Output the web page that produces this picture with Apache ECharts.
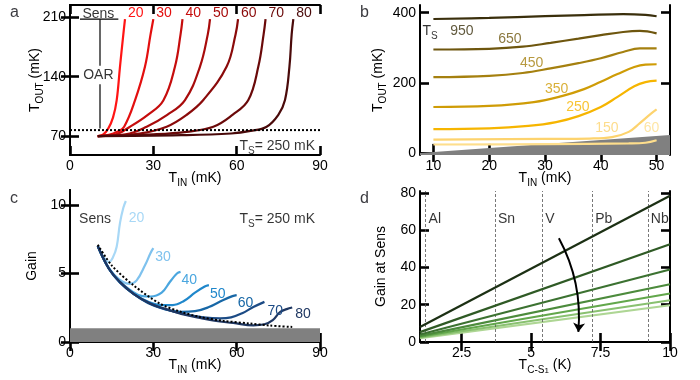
<!DOCTYPE html>
<html>
<head>
<meta charset="utf-8">
<script src="https://cdn.jsdelivr.net/npm/echarts@6/dist/echarts.min.js"></script>
<style>
html, body { margin: 0; padding: 0; background: #fff; }
#chart { width: 700px; height: 380px; }
</style>
</head>
<body>
<div id="chart"></div>
<script>
// ---- panel a: T_OUT vs T_IN, Ts = 250 mK, one curve per Sens ----
const sensA = [20, 30, 40, 50, 60, 70, 80];
const a20 = [[10,70],[12,72],[13.8,79],[15.5,92],[16.8,112],[18,152],[19.2,190],[19.8,208]];
const a30 = [[10,70],[14,71.5],[17,75],[19.5,81],[23.4,112],[27,152],[29,190],[30,208]];
const a40 = [[10,70],[16,71.5],[21.6,81],[28,95],[33.6,112],[37.8,152],[39.8,190],[40.5,208]];
const a50 = [[10,70],[20,72],[27.6,81],[35,95],[41.4,112.5],[46.8,152],[49.6,190],[50.4,208]];
const a60 = [[10,70],[25,73],[34.8,81],[42,95],[48,112.5],[56.4,152],[59.6,190],[60.5,208]];
const a70 = [[10,70],[30,72],[42,75],[51.6,81],[58.5,95],[64.2,112.5],[67.8,152],[69.7,190],[70.4,208]];
const a80 = [[10,70],[40,71],[58,73],[65,76],[70.8,81],[75,95],[77.4,112.5],[79,152],[79.8,190],[80.4,208]];
const curvesA = [a20, a30, a40, a50, a60, a70, a80];
const colorsA = ['#ff1414', '#e30f0f', '#c60c0c', '#a80b0b', '#8a0a0a', '#6a0909', '#4a0a0a'];
const floorA = [[0,77],[90,77]];
const sensBar = [[3.6,208],[17.4,208]];
const oarTop = [[10.8,208],[10.8,153]];
const oarBottom = [[10.8,131],[10.8,79]];

// ---- panel b: T_OUT vs T_IN for several Ts ----
const tsB = [950, 650, 450, 350, 250, 150, 60];
const b950 = [[10,382],[20,385],[30,390],[37,393],[44,396],[48,394],[50,390]];
const b650 = [[10,295],[20,297],[26,303],[31,314],[36,326],[40,336],[44,345],[47,348],[50,341]];
const b450 = [[10,216],[20,220],[26,228],[31,241],[36,256],[40,270],[44,288],[47,298],[50,298]];
const b350 = [[10,131],[20,134],[28,145],[33,162],[37,182],[40,203],[43,225],[46,245],[48,252],[50,253]];
const b250 = [[10,68],[20,70],[27,77],[32,88],[36,105],[40,131],[43,160],[46,190],[48,202],[50,206]];
const b150 = [[10,38],[30,40],[38,41],[42,45],[45,60],[47,85],[49,112],[50,124]];
const b60 = [[10,24],[30,25],[45,27],[48,29],[50,36]];
const curvesB = [b950, b650, b450, b350, b250, b150, b60];
const colorsB = ['#3a2f0c', '#6e560e', '#a5800f', '#cf9c06', '#f6b500', '#fdd36e', '#fede8c'];
const grayB = [[7.6,0],[52.4,51]];
const labelPosB = [[15.1,346],[23.7,325],[27.6,255],[32.1,181],[35.9,130],[41.1,71],[49.1,71]];

// ---- panel c: gain vs T_IN, Ts = 250 mK ----
const sensC = [20, 30, 40, 50, 60, 70, 80];
const c20 = [[10,7.0],[11.5,6.4],[13,5.95],[14,5.85],[15.5,6.2],[16.8,6.95],[18,8.7],[19.2,9.8],[20.1,10.3]];
const c30 = [[10,7.0],[13,5.7],[16,4.9],[19,4.4],[21.5,4.25],[24,4.5],[27,5.6],[29,6.5],[30,6.85]];
const c40 = [[10,7.0],[14,5.4],[18,4.4],[22,3.75],[26,3.35],[29,3.32],[33,3.6],[36,4.4],[38.5,5.0],[39.8,5.12]];
const c50 = [[10,7.0],[14,5.35],[18,4.35],[23,3.5],[28,2.95],[33,2.7],[37,2.7],[41,3.0],[45,3.6],[48.5,4.05],[50,4.15]];
const c60 = [[10,7.0],[14,5.35],[18,4.35],[23,3.5],[28,2.85],[34,2.4],[40,2.2],[45,2.25],[50,2.55],[55,3.05],[58.5,3.35],[60,3.42]];
const c70 = [[10,7.0],[14,5.35],[18,4.35],[23,3.5],[29,2.8],[35,2.35],[42,2.0],[48,1.8],[54,1.72],[58,1.8],[62,2.1],[66,2.55],[70,2.93]];
const c80 = [[10,7.0],[14,5.37],[18,4.39],[22.8,3.54],[28.8,2.81],[34.8,2.39],[40,2.05],[46.8,1.76],[52,1.55],[58.8,1.39],[66,1.22],[70,1.3],[73,1.6],[75.6,2.19],[78,2.4],[80,2.52]];
const curvesC = [c20, c30, c40, c50, c60, c70, c80];
const colorsC = ['#a8d8f6', '#7fc2ee', '#4aa6df', '#1f87cb', '#1767a6', '#1c4b85', '#1f3762'];
const labelOffC = [[2,17],[1,9],[0,8],[0,9],[0,8],[2,9],[2,7]];
const dottedC = [[10,7.1],[15,5.6],[22.8,4.15],[32.4,2.8],[40,2.2],[46.8,1.83],[55,1.55],[64.8,1.35],[72,1.2],[80,1.1]];
const gainFloor = 1;

// ---- panel d: gain at Sens vs Tc of S1 ----
const tcEnds = [1, 10];
const gainLeft = [8.0, 5.3, 4.0, 3.3, 2.8, 2.4, 2.1];
const gainRight = [78.5, 52.4, 38.9, 31.0, 26.0, 22.4, 19.7];
const colorsD = ['#1c3014', '#2f5a25', '#3c7231', '#4c8b3c', '#62a74b', '#89c170', '#aed694'];
const metals = ['Al', 'Sn', 'V', 'Pb', 'Nb'];
const metalTc = [1.2, 3.7, 5.4, 7.2, 9.2];
const metalLabelY = 66;
const arrowD = [[6.0,55.6],[6.7,5.4]];

const FONT = 'Liberation Sans, Arial, sans-serif';
const subRich = {
  t: { fontSize: 14, lineHeight: 20, fontFamily: FONT, color: '#000' },
  s: { fontSize: 10, lineHeight: 10, verticalAlign: 'bottom', fontFamily: FONT, color: '#000' },
  ss: { fontSize: 8, lineHeight: 6, verticalAlign: 'bottom', fontFamily: FONT, color: '#000' }
};

const grids = [
  { left: 70, top: 5, width: 250, height: 150 },
  { left: 420, top: 5, width: 250, height: 150 },
  { left: 70, top: 190, width: 250, height: 152 },
  { left: 420, top: 191, width: 250, height: 151 }
];

const xAxes = [], yAxes = [];
function frame(g, xmin, xmax, xticks, ymin, ymax, yticks, xname, yname, yGap) {
  const line = { show: true, lineStyle: { color: '#000', width: 2 } };
  const tickOf = v => ({ show: true, inside: true, length: 9, customValues: v, lineStyle: { color: '#000', width: 2.6 } });
  const lab = v => ({ customValues: v, color: '#000', fontSize: 14, fontFamily: FONT, margin: 4 });
  xAxes.push({ gridIndex: g, type: 'value', min: xmin, max: xmax, position: 'bottom',
    axisLine: line, axisTick: tickOf(xticks), axisLabel: lab(xticks), splitLine: { show: false },
    name: xname, nameLocation: 'middle', nameGap: 13, nameMoveOverlap: false, nameTextStyle: { rich: subRich } });
  xAxes.push({ gridIndex: g, type: 'value', min: xmin, max: xmax, position: 'top',
    axisLine: line, axisTick: tickOf(xticks), axisLabel: { show: false }, splitLine: { show: false } });
  yAxes.push({ gridIndex: g, type: 'value', min: ymin, max: ymax, position: 'left',
    axisLine: line, axisTick: tickOf(yticks), axisLabel: lab(yticks), splitLine: { show: false },
    name: yname, nameLocation: 'middle', nameGap: yGap, nameMoveOverlap: false, nameTextStyle: { rich: subRich } });
  yAxes.push({ gridIndex: g, type: 'value', min: ymin, max: ymax, position: 'right',
    axisLine: line, axisTick: tickOf(yticks), axisLabel: { show: false }, splitLine: { show: false } });
}
frame(0, 0, 90, [0,30,60,90], 47.6, 224.7, [70,140,210], '{t|T}{s|IN}{t| (mK)}', '{t|T}{s|OUT}{t| (mK)}', 25);
frame(1, 7.6, 52.4, [10,20,30,40,50], -6, 422, [0,200,400], '{t|T}{s|IN}{t| (mK)}', '{t|T}{s|OUT}{t| (mK)}', 32);
frame(2, 0, 90, [0,30,60,90], 0, 11.1, [0,5,10], '{t|T}{s|IN}{t| (mK)}', '{t|Gain}', 28);
frame(3, 1, 10, [2.5,5,7.5,10], 0, 81, [0,20,40,60,80], '{t|T}{s|C-S}{ss|1}{t| (K)}', '{t|Gain at Sens}', 29);

const series = [];
function plain(g, data, style, extra) {
  series.push(Object.assign({ type: 'line', xAxisIndex: 2 * g, yAxisIndex: 2 * g, data: data,
    showSymbol: false, symbol: 'none', silent: true, lineStyle: style }, extra || {}));
}
function texts(g, items) {
  series.push({ type: 'scatter', xAxisIndex: 2 * g, yAxisIndex: 2 * g, symbolSize: 0, silent: true, z: 10,
    data: items.map(it => ({ value: [it[0], it[1]], name: it[2], label: Object.assign({}, it[3] || {}) })),
    label: { show: true, position: 'inside', color: '#000', fontSize: 14, fontFamily: FONT,
      formatter: p => p.name, rich: subRich } });
}

// panel a
curvesA.forEach((d, i) => plain(0, d, { color: colorsA[i], width: 2.2 }, {
  smooth: 0.4,
  endLabel: { show: true, formatter: String(sensA[i]), color: colorsA[i], fontSize: 14, fontFamily: FONT, distance: 3, offset: [0, -6] }
}));
plain(0, floorA, { color: '#000', width: 2, type: [2, 2] }, { z: 5 });
plain(0, sensBar, { color: '#000', width: 1.2 });
plain(0, oarTop, { color: '#000', width: 1.2 });
plain(0, oarBottom, { color: '#000', width: 1.2 });
texts(0, [
  [10.2, 214, 'Sens'],
  [10.2, 142, 'OAR'],
  [88.2, 58.5, '{t|T}{s|S}{t|= 250 mK}', { align: 'right' }]
]);

// panel b
plain(1, grayB, { width: 0 }, { areaStyle: { color: '#808080', opacity: 1, origin: 'start' }, z: 1 });
curvesB.forEach((d, i) => plain(1, d, { color: colorsB[i], width: 2.2 }, { smooth: 0.4 }));
texts(1, tsB.map((t, i) => [labelPosB[i][0], labelPosB[i][1], String(t), { color: colorsB[i] }])
  .concat([[9.4, 346, '{t|T}{s|S}']]));

// panel c
plain(2, [[0, gainFloor], [90, gainFloor]], { width: 0 }, { areaStyle: { color: '#808080', opacity: 1, origin: 'start' }, z: 1 });
curvesC.forEach((d, i) => plain(2, d, { color: colorsC[i], width: 2.2 }, {
  smooth: 0.4,
  endLabel: { show: true, formatter: String(sensC[i]), color: colorsC[i], fontSize: 14, fontFamily: FONT, distance: 1, offset: labelOffC[i] }
}));
plain(2, dottedC, { color: '#000', width: 2, type: [2, 2] }, { smooth: 0.3, z: 6 });
texts(2, [
  [9.0, 9.0, 'Sens'],
  [88.2, 9.0, '{t|T}{s|S}{t|= 250 mK}', { align: 'right' }]
]);

// panel d
gainLeft.forEach((g0, i) => plain(3, [[tcEnds[0], g0], [tcEnds[1], gainRight[i]]], { color: colorsD[i], width: 2.2 }, { z: 3 + (6 - i) }));
series[series.length - 1].markLine = {
  silent: true, symbol: 'none', label: { show: false }, animation: false,
  lineStyle: { type: [3, 2], color: '#555', width: 0.8 },
  data: metalTc.map(v => ({ xAxis: v }))
};
texts(3, metals.map((m, i) => [metalTc[i], metalLabelY, m, { position: 'right', distance: 3 }]));
series.push({
  type: 'lines', coordinateSystem: 'cartesian2d', xAxisIndex: 6, yAxisIndex: 6, silent: true, z: 20,
  symbol: ['none', 'arrow'], symbolSize: 9,
  lineStyle: { color: '#000', width: 2, curveness: 0.15, opacity: 1 },
  data: [{ coords: arrowD }]
});

const chart = echarts.init(document.getElementById('chart'), null, { renderer: 'canvas' });
chart.setOption({
  animation: false,
  backgroundColor: '#fff',
  textStyle: { fontFamily: FONT },
  title: [
    { text: 'a', left: 5, top: 0, textStyle: { fontSize: 16, fontWeight: 'normal', fontFamily: FONT } },
    { text: 'b', left: 355, top: 0, textStyle: { fontSize: 16, fontWeight: 'normal', fontFamily: FONT } },
    { text: 'c', left: 5, top: 186, textStyle: { fontSize: 16, fontWeight: 'normal', fontFamily: FONT } },
    { text: 'd', left: 355, top: 186, textStyle: { fontSize: 16, fontWeight: 'normal', fontFamily: FONT } }
  ],
  grid: grids,
  xAxis: xAxes,
  yAxis: yAxes,
  series: series
});
</script>
</body>
</html>
